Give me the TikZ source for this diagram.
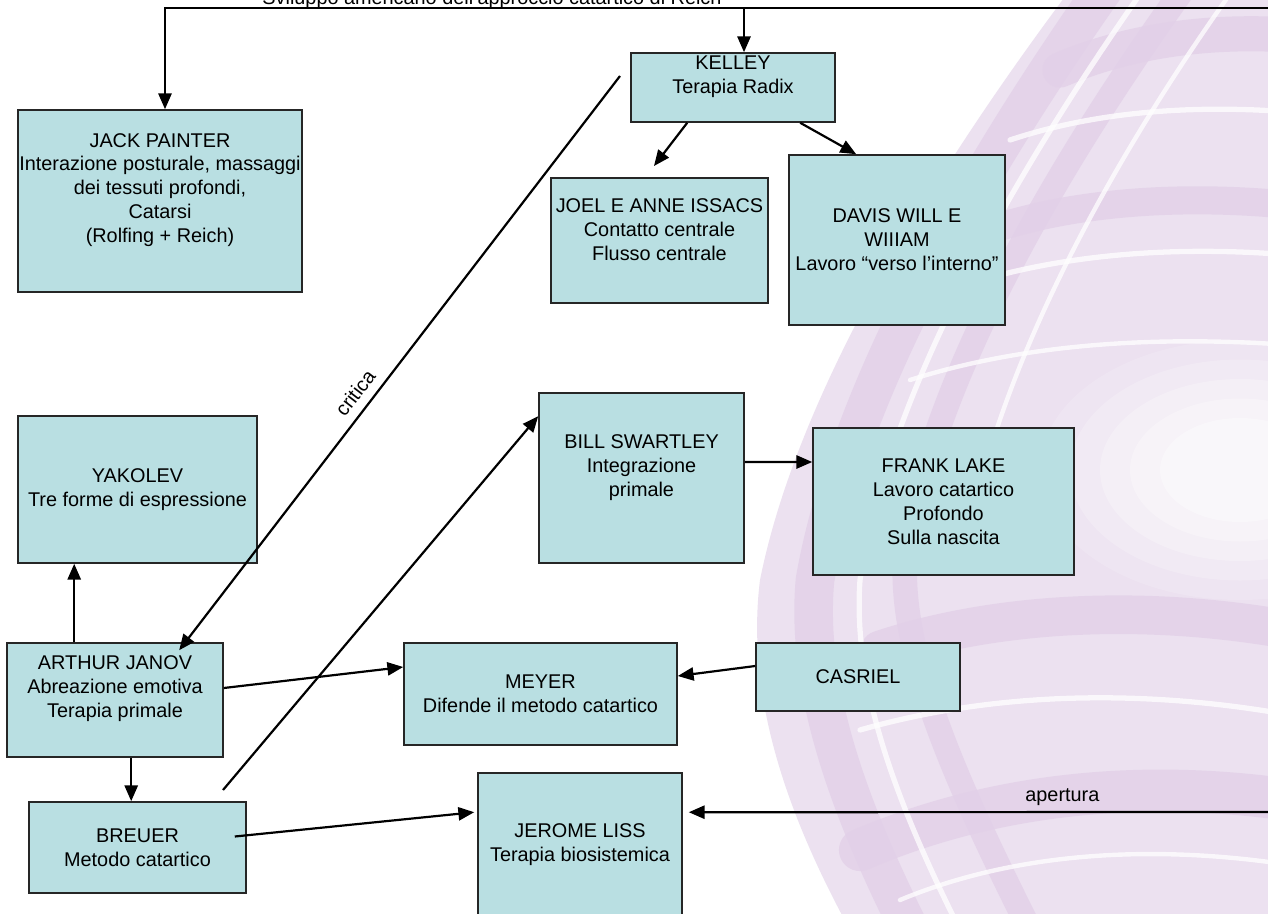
\documentclass[tikz,border=0pt]{standalone}
\usepackage{fontspec}
\setmainfont{Liberation Sans}
\usetikzlibrary{arrows.meta,calc,fit}

\definecolor{boxfill}{RGB}{185,223,226}
\definecolor{swirl}{RGB}{236,225,240}
\definecolor{swirldark}{RGB}{226,208,232}

\tikzset{
  box/.style={draw=black!85, line width=0.9pt, fill=boxfill, inner sep=0pt},
  txt/.style={align=center, inner sep=0pt, font=\fontsize{11.3}{13.6}\selectfont},
  arr/.style={line width=1.25pt, -{Triangle[length=9pt,width=7.5pt]}},
  streak/.style={white, opacity=0.75, line cap=round},
  dstreak/.style={swirldark, opacity=0.8, line cap=round},
}

\begin{document}
\begin{tikzpicture}[x=0.02cm, y=-0.02cm]
\useasboundingbox (0,0) rectangle (1268,913);
\clip (0,0) rectangle (1268,913);
\fill[white] (0,0) rectangle (1268,913);

% decorative ribbons in the background
\path[fill=swirl] (1070,-10) .. controls (950,150) and (800,380) .. (760,580)
   .. controls (745,700) and (790,820) .. (850,930) -- (1290,930) -- (1290,-10) -- cycle;
\begin{scope}
  \clip (1070,-10) .. controls (950,150) and (800,380) .. (760,580)
   .. controls (745,700) and (790,820) .. (850,930) -- (1290,930) -- (1290,-10) -- cycle;
  % darker ribbons
  \draw[dstreak, line width=22pt] (1110,-20) .. controls (990,150) and (850,380) .. (815,580)
     .. controls (805,690) and (850,810) .. (910,930);
  \draw[dstreak, line width=14pt] (1190,-20) .. controls (1060,160) and (930,380) .. (905,560)
     .. controls (900,660) and (960,790) .. (1030,930);
  \draw[dstreak, line width=20pt] (1060,70) .. controls (1130,40) and (1210,30) .. (1290,35);
  \draw[dstreak, line width=16pt] (990,230) .. controls (1080,200) and (1190,195) .. (1290,205);
  \draw[dstreak, line width=22pt] (880,650) .. controls (1000,610) and (1150,605) .. (1290,630);
  \draw[dstreak, line width=24pt] (860,850) .. controls (1000,790) and (1150,780) .. (1290,800);
  % light streaks
  \draw[streak, line width=3pt] (1150,-20) .. controls (1030,150) and (890,380) .. (860,580)
     .. controls (852,690) and (900,810) .. (960,930);
  \draw[streak, line width=2.5pt] (1240,-20) .. controls (1110,160) and (990,380) .. (965,560);
  \draw[streak, line width=3pt] (1010,140) .. controls (1100,110) and (1200,105) .. (1290,112);
  \draw[streak, line width=3pt] (950,290) .. controls (1050,255) and (1170,245) .. (1290,255);
  \draw[streak, line width=2.5pt] (910,380) .. controls (1020,345) and (1150,335) .. (1290,345);
  \draw[streak, line width=3pt] (860,730) .. controls (1000,690) and (1150,690) .. (1290,715);
  \draw[streak, line width=2.5pt] (900,900) .. controls (1020,850) and (1160,845) .. (1290,865);
  % soft light core of the ring
  \foreach \s/\o in {1/0.15,0.85/0.2,0.7/0.25,0.55/0.3,0.4/0.35}
    \fill[white, opacity=\o] (1240,470) ellipse ({200*\s} and {130*\s});
\end{scope}

% boxes
\node[box, fit={(18,110) (302,292)}] (jack) {};
\node[box, fit={(631,53) (835,122)}] (kelley) {};
\node[box, fit={(551,178) (768,303)}] (joel) {};
\node[box, fit={(789,155) (1005,325)}] (davis) {};
\node[box, fit={(18,416) (257,563)}] (yakolev) {};
\node[box, fit={(539,393) (744,563)}] (bill) {};
\node[box, fit={(813,428) (1074,575)}] (frank) {};
\node[box, fit={(7,643) (223,757)}] (janov) {};
\node[box, fit={(404,643) (677,745)}] (meyer) {};
\node[box, fit={(756,643) (960,711)}] (casriel) {};
\node[box, fit={(29,802) (246,893)}] (breuer) {};
\node[box, fit={(478,773) (682,935)}] (liss) {};

% box texts
\node[txt] at ($(jack.center)+(0,-11)$) {JACK PAINTER\\Interazione posturale, massaggi\\dei tessuti profondi,\\Catarsi\\(Rolfing + Reich)};
\node[txt] at ($(kelley.center)+(0,-11)$) {KELLEY\\Terapia Radix};
\node[txt] at ($(joel.center)+(0,-11)$) {JOEL E ANNE ISSACS\\Contatto centrale\\Flusso centrale};
\node[txt] at (davis.center) {DAVIS WILL E\\WIIIAM\\Lavoro “verso l’interno”};
\node[txt] at (yakolev.center) {YAKOLEV\\Tre forme di espressione};
\node[txt] at ($(bill.center)+(0,-10)$) {BILL SWARTLEY\\Integrazione\\primale};
\node[txt] at (frank.center) {FRANK LAKE\\Lavoro catartico\\Profondo\\Sulla nascita};
\node[txt] at ($(janov.center)+(0,-11)$) {ARTHUR JANOV\\Abreazione emotiva\\Terapia primale};
\node[txt] at (meyer.center) {MEYER\\Difende il metodo catartico};
\node[txt] at (casriel.center) {CASRIEL};
\node[txt] at (breuer.center) {BREUER\\Metodo catartico};
\node[txt] at (478+102,845) {JEROME LISS\\Terapia biosistemica};

% heading over the top connector
\node[txt, anchor=base] (title) at (492,4) {Sviluppo americano dell’approccio catartico di Reich};

% free ends of connectors
\coordinate (topL) at (165,8);
\coordinate (topR) at (1268,8);
\coordinate (kTop) at (744,8);
\coordinate (critStart) at (620,76);
\coordinate (joelTip) at (654,166);
\coordinate (breuerOut) at (223,790);
\coordinate (apR) at (1268,812);

% connectors
\draw[arr] (topR) -- (topL) -- (topL |- jack.north);
\draw[arr] (kTop) -- (kTop |- kelley.north);
\draw[arr] ($(kelley.south west)+(57,0)$) -- (joelTip);
\draw[arr] ($(kelley.south west)+(170,0)$) -- ($(davis.north west)+(68,0)$);
\draw[arr] (critStart) -- node[txt, pos=0.57, above=5pt, sloped] {critica} ($(janov.north west)+(173,8)$);
\draw[arr] (breuerOut) -- ($(bill.north west)+(0,24)$);
\draw[arr] ($(bill.east)+(0,-16)$) -- ($(frank.west)+(0,-39.5)$);
\draw[arr] ($(janov.north west)+(68,0)$) -- ($(yakolev.south west)+(57,0)$);
\draw[arr] ($(janov.south west)+(125,0)$) -- ($(breuer.north west)+(103,0)$);
\draw[arr] ($(janov.east)+(0,-12)$) -- ($(meyer.west)+(0,-27)$);
\draw[arr] ($(casriel.west)+(0,-11)$) -- ($(meyer.east)+(0,-18)$);
\draw[arr] ($(breuer.east)+(-12,-11)$) -- ($(liss.north west)+(-3,40)$);
\draw[arr] (apR) -- node[txt, pos=0.355, above=3pt] {apertura} ($(liss.north east)+(6,40)$);
\end{tikzpicture}
\end{document}
